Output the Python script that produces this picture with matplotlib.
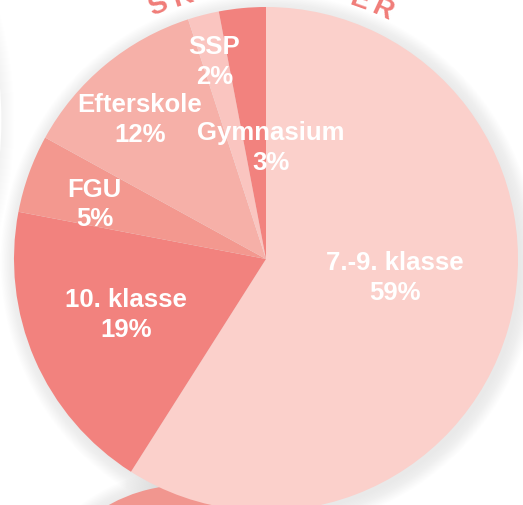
import numpy as np
import matplotlib.pyplot as plt
from matplotlib.patches import Circle

# data
categories = ['7.-9. klasse', '10. klasse', 'FGU', 'Efterskole', 'SSP', 'Gymnasium']
shares = [59, 19, 5, 12, 2, 3]
colors = ['#FBD0CB', '#F2827E', '#F3988F', '#F6B0A8', '#FAC5C0', '#F2827E']
# label centres (pie radius = 1)
label_pos = [(0.51, -0.072), (-0.555, -0.218), (-0.68, 0.22),
             (-0.50, 0.555), (-0.205, 0.785), (0.02, 0.445)]
title = 'SKOLETYPER'

plt.rcParams['font.family'] = ['Liberation Sans', 'DejaVu Sans']

fig = plt.figure(figsize=(5.23, 5.06), dpi=100)
ax = fig.add_axes([0, 0, 1, 1])

# soft shadows
for k in range(14):
    ax.add_patch(Circle((0.012, -0.012), 1 + k * 0.005, color='#9a9a9a',
                        alpha=0.012, lw=0, zorder=1))
    ax.add_patch(Circle((-2.6, 0.55), 1.55 + k * 0.004, color='#9a9a9a',
                        alpha=0.005, lw=0, zorder=1))
    ax.add_patch(Circle((-0.32, -1.52), 0.62 + k * 0.005, color='#9a9a9a',
                        alpha=0.01, lw=0, zorder=1))
ax.add_patch(Circle((-2.6, 0.55), 1.55, color='white', lw=0, zorder=2))
ax.add_patch(Circle((-0.32, -1.52), 0.623, color='#F1968F', lw=0, zorder=2))

wedges, _ = ax.pie(shares, colors=colors, startangle=90, counterclock=False,
                   radius=1, center=(0, 0), frame=True,
                   wedgeprops=dict(linewidth=0))
for w in wedges:
    w.set_zorder(3)
ax.set_xlim(-266 / 252, 257 / 252)
ax.set_ylim(-246 / 252, 260 / 252)
ax.set_aspect('equal')
ax.axis('off')

for name, val, (x, y) in zip(categories, shares, label_pos):
    ax.text(x, y, f'{name}\n{val}%', color='white', fontsize=18.5,
            fontweight='bold', ha='center', va='center', linespacing=1.3,
            zorder=5)

# title written along an arc above the pie
angles = np.linspace(113.0, 65.0, len(title))
for ch, a in zip(title, angles):
    t = np.radians(a)
    ax.text(1.095 * np.cos(t), 1.095 * np.sin(t), ch, color='#F07C78',
            fontsize=20, fontweight='bold', ha='center', va='center',
            rotation=a - 90, zorder=5)

fig.savefig('out.png', dpi=100)
